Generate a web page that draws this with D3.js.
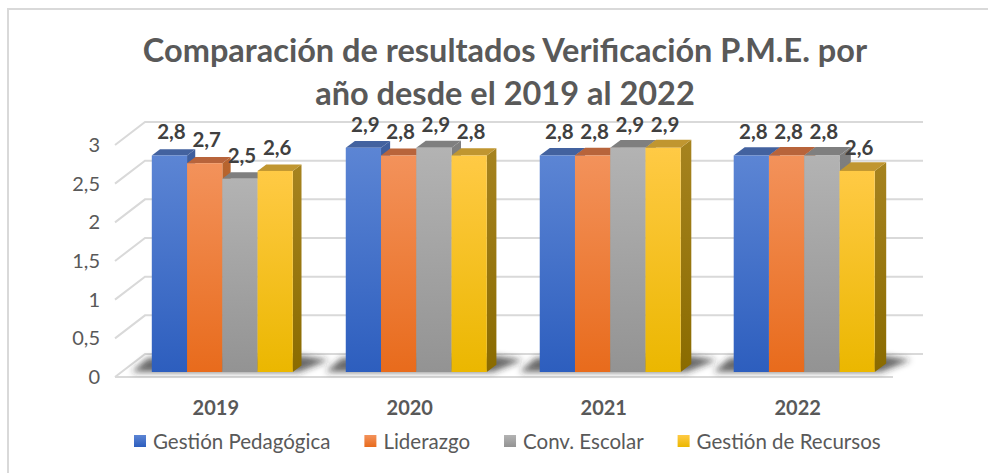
<!DOCTYPE html>
<html>
<head>
<meta charset="utf-8">
<script src="https://cdn.jsdelivr.net/npm/d3@7/dist/d3.min.js"></script>
<style>
  html, body { margin: 0; padding: 0; background: #fff; }
  svg { display: block; }
  text { font-family: Lato, "Liberation Sans", sans-serif; }
</style>
</head>
<body>
<svg id="chart" width="988" height="473"></svg>
<script>
// Chart data
const years = ["2019", "2020", "2021", "2022"];
const seriesNames = ["Gestión Pedagógica", "Liderazgo", "Conv. Escolar", "Gestión de Recursos"];
const gestionPedagogica = [2.8, 2.9, 2.8, 2.8];
const liderazgo = [2.7, 2.8, 2.8, 2.8];
const convEscolar = [2.5, 2.9, 2.9, 2.8];
const gestionRecursos = [2.6, 2.8, 2.9, 2.6];
const yTicks = [0, 0.5, 1, 1.5, 2, 2.5, 3];
const titleLines = ["Comparación de resultados Verificación P.M.E. por", "año desde el 2019 al 2022"];

const seriesValues = [gestionPedagogica, liderazgo, convEscolar, gestionRecursos];

// Face colours for each series: front gradient (top, bottom), top face, side face (top, bottom)
const palette = [
  { front: ["#5c85d4", "#2d5ebe"], top: "#43629f", side: ["#3f5f9e", "#2a4c8e"] },
  { front: ["#f3925b", "#e86b1c"], top: "#b8643b", side: ["#b8652f", "#a85716"] },
  { front: ["#b3b3b3", "#939393"], top: "#7f7f7f", side: ["#7f7f7f", "#6e6e6e"] },
  { front: ["#ffca45", "#ebb700"], top: "#c09630", side: ["#a6831f", "#8a6b00"] }
];

const svg = d3.select("#chart");
const defs = svg.append("defs");

// Chart area border
svg.append("rect")
  .attr("x", 8).attr("y", 9).attr("width", 1000).attr("height", 480)
  .attr("fill", "#fff").attr("stroke", "#d9d9d9").attr("stroke-width", 2);

// 3D floor geometry: front edge of the floor and the depth vector to the back wall
const floorY = 377;
const floorX0 = 115, floorX1 = 893;
const wallDX = 30, wallDY = -23;

// Values on the front plane / back wall
const yv = d3.scaleLinear().domain([0, 3]).range([0, 232]);

// Category and series scales
const x0 = d3.scaleBand().domain(years).range([floorX0, floorX1])
  .paddingInner(0.273).paddingOuter(0.142).align(0.55);
const x1 = d3.scaleBand().domain(seriesNames).range([0, x0.bandwidth()]).padding(0);

// Bars stand a little behind the front edge of the floor
const barDX = 6.5, barDY = -5;
const barBase = floorY + barDY;
// Depth of a bar (slightly larger toward the right, as in perspective)
function barDepth(x) {
  const t = Math.max(0, Math.min(1, (x - 150) / 725));
  return [8 + 3.5 * t, -6 - 2.6 * t];
}

// Gradients
palette.forEach((p, i) => {
  const g = defs.append("linearGradient").attr("id", "front" + i)
    .attr("x1", 0).attr("y1", 0).attr("x2", 0).attr("y2", 1);
  g.append("stop").attr("offset", "0%").attr("stop-color", p.front[0]);
  g.append("stop").attr("offset", "100%").attr("stop-color", p.front[1]);
  const s = defs.append("linearGradient").attr("id", "side" + i)
    .attr("x1", 0).attr("y1", 0).attr("x2", 0).attr("y2", 1);
  s.append("stop").attr("offset", "0%").attr("stop-color", p.side[0]);
  s.append("stop").attr("offset", "100%").attr("stop-color", p.side[1]);
});
const blur = defs.append("filter").attr("id", "shadowBlur")
  .attr("x", "-20%").attr("y", "-50%").attr("width", "140%").attr("height", "200%");
blur.append("feGaussianBlur").attr("stdDeviation", 3);

// Walls: gridlines on the side wall and the back wall
const grid = svg.append("g").attr("stroke", "#d9d9d9").attr("stroke-width", 2).attr("fill", "none");
yTicks.forEach(v => {
  const yf = floorY - yv(v);
  const yb = floorY + wallDY - yv(v);
  grid.append("path").attr("d", d3.line()([
    [floorX0, yf], [floorX0 + wallDX, yb], [floorX1 + wallDX, yb]
  ]));
});
// Front edge of the floor
grid.append("line")
  .attr("x1", floorX0).attr("x2", floorX1)
  .attr("y1", floorY).attr("y2", floorY);

// Y axis labels
svg.append("g").selectAll("text").data(yTicks).join("text")
  .attr("x", 100).attr("y", v => floorY - yv(v) + 7)
  .attr("text-anchor", "end")
  .attr("font-size", 20).attr("fill", "#595959")
  .text(v => d3.format(".1~f")(v).replace(".", ","));

// Shadows cast on the floor behind each group
const shadows = svg.append("g").attr("filter", "url(#shadowBlur)");
years.forEach(yr => {
  const gx0 = x0(yr) + barDX, gx1 = gx0 + x0.bandwidth();
  shadows.append("path")
    .attr("d", d3.line()([
      [gx0 - 20, barBase], [gx1 + 6, barBase],
      [gx1 + 36, barBase - 12], [gx1 + 10, barBase - 16], [gx0 - 4, barBase - 14]
    ]) + "Z")
    .attr("fill", "#2b2b2b").attr("opacity", 0.7);
});

// Bars, drawn left to right so each bar covers the side of its neighbour
const bars = svg.append("g");
years.forEach((yr, gi) => {
  seriesNames.forEach((name, si) => {
    const v = seriesValues[si][gi];
    const xl = x0(yr) + x1(name) + barDX;
    const xr = xl + x1.bandwidth();
    const yt = barBase - yv(v);
    const [dx, dy] = barDepth(xr);
    const g = bars.append("g");
    // right side face
    g.append("path")
      .attr("d", d3.line()([[xr, yt], [xr + dx, yt + dy], [xr + dx, barBase + dy], [xr, barBase]]) + "Z")
      .attr("fill", `url(#side${si})`);
    // top face
    g.append("path")
      .attr("d", d3.line()([[xl, yt], [xl + dx, yt + dy], [xr + dx, yt + dy], [xr, yt]]) + "Z")
      .attr("fill", palette[si].top);
    // front face
    g.append("rect")
      .attr("x", xl).attr("y", yt)
      .attr("width", x1.bandwidth()).attr("height", barBase - yt)
      .attr("fill", `url(#front${si})`);
  });
});

// Value labels above the bars
const labels = svg.append("g");
years.forEach((yr, gi) => {
  seriesNames.forEach((name, si) => {
    const v = seriesValues[si][gi];
    const xc = x0(yr) + x1(name) + barDX + x1.bandwidth() / 2 + 2;
    labels.append("text")
      .attr("x", xc).attr("y", barBase - yv(v) - 16)
      .attr("text-anchor", "middle")
      .attr("font-size", 20.5).attr("font-weight", "bold").attr("fill", "#404040")
      .text(d3.format(".1f")(v).replace(".", ","));
  });
});

// Category labels
svg.append("g").selectAll("text").data(years).join("text")
  .attr("x", d => x0(d) + x0.bandwidth() / 2)
  .attr("y", 415)
  .attr("text-anchor", "middle")
  .attr("font-size", 20).attr("font-weight", "bold").attr("fill", "#595959")
  .text(d => d);

// Title
svg.append("g").selectAll("text").data(titleLines).join("text")
  .attr("x", 505).attr("y", (d, i) => 62 + i * 43)
  .attr("text-anchor", "middle")
  .attr("font-size", 32.5).attr("font-weight", "bold").attr("fill", "#595959")
  .text(d => d);

// Legend
const legend = svg.append("g");
let lx = 134;
seriesNames.forEach((name, si) => {
  legend.append("rect")
    .attr("x", lx).attr("y", 435).attr("width", 12).attr("height", 12)
    .attr("fill", `url(#front${si})`);
  const t = legend.append("text")
    .attr("x", lx + 19).attr("y", 448.5)
    .attr("font-size", 20.5).attr("fill", "#595959")
    .text(name);
  lx += 19 + t.node().getComputedTextLength() + 34;
});
</script>
</body>
</html>
